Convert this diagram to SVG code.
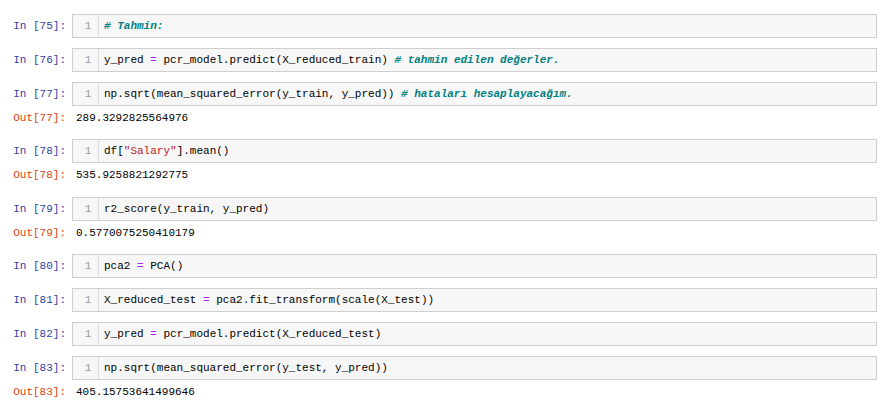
<svg xmlns="http://www.w3.org/2000/svg" width="887" height="409" viewBox="0 0 887 409">
<style>
text{font-family:"Liberation Mono","DejaVu Sans Mono",monospace;font-size:11px;fill:#000}
.in{fill:#303F9F}.out{fill:#D84315}
.box{fill:#f7f7f7;stroke:#cfcfcf;stroke-width:1}
.gut{stroke:#dddddd;stroke-width:1}
.ln{fill:#999}.c{fill:#008080;font-style:italic;font-weight:bold}.o{fill:#AA22FF}.s{fill:#BA2121}
</style>
<rect width="887" height="409" fill="#fff"/>
<g id="cells">
<g id="c75"><text class="in" x="66" y="29" text-anchor="end">In [75]:</text><rect class="box" x="72.5" y="14.5" width="804" height="23"/><line class="gut" x1="98.5" y1="15" x2="98.5" y2="37"/><text class="ln" x="88" y="29" text-anchor="middle">1</text><text x="104" y="29" class="c"># Tahmin:</text></g>
<g id="c76"><text class="in" x="66" y="63" text-anchor="end">In [76]:</text><rect class="box" x="72.5" y="48.5" width="804" height="23"/><line class="gut" x1="98.5" y1="49" x2="98.5" y2="71"/><text class="ln" x="88" y="63" text-anchor="middle">1</text><text x="104" y="63">y_pred <tspan class="o">=</tspan> pcr_model.predict(X_reduced_train) <tspan class="c"># tahmin edilen değerler.</tspan></text></g>
<g id="c77"><text class="in" x="66" y="97" text-anchor="end">In [77]:</text><rect class="box" x="72.5" y="82.5" width="804" height="23"/><line class="gut" x1="98.5" y1="83" x2="98.5" y2="105"/><text class="ln" x="88" y="97" text-anchor="middle">1</text><text x="104" y="97">np.sqrt(mean_squared_error(y_train, y_pred)) <tspan class="c"># hataları hesaplayacağım.</tspan></text><text class="out" x="66" y="121" text-anchor="end">Out[77]:</text><text x="76" y="121">289.3292825564976</text></g>
<g id="c78"><text class="in" x="66" y="154" text-anchor="end">In [78]:</text><rect class="box" x="72.5" y="139.5" width="804" height="23"/><line class="gut" x1="98.5" y1="140" x2="98.5" y2="162"/><text class="ln" x="88" y="154" text-anchor="middle">1</text><text x="104" y="154">df[<tspan class="s">"Salary"</tspan>].mean()</text><text class="out" x="66" y="178" text-anchor="end">Out[78]:</text><text x="76" y="178">535.9258821292775</text></g>
<g id="c79"><text class="in" x="66" y="212" text-anchor="end">In [79]:</text><rect class="box" x="72.5" y="197.5" width="804" height="23"/><line class="gut" x1="98.5" y1="198" x2="98.5" y2="220"/><text class="ln" x="88" y="212" text-anchor="middle">1</text><text x="104" y="212">r2_score(y_train, y_pred)</text><text class="out" x="66" y="236" text-anchor="end">Out[79]:</text><text x="76" y="236">0.5770075250410179</text></g>
<g id="c80"><text class="in" x="66" y="269" text-anchor="end">In [80]:</text><rect class="box" x="72.5" y="254.5" width="804" height="23"/><line class="gut" x1="98.5" y1="255" x2="98.5" y2="277"/><text class="ln" x="88" y="269" text-anchor="middle">1</text><text x="104" y="269">pca2 <tspan class="o">=</tspan> PCA()</text></g>
<g id="c81"><text class="in" x="66" y="303" text-anchor="end">In [81]:</text><rect class="box" x="72.5" y="288.5" width="804" height="23"/><line class="gut" x1="98.5" y1="289" x2="98.5" y2="311"/><text class="ln" x="88" y="303" text-anchor="middle">1</text><text x="104" y="303">X_reduced_test <tspan class="o">=</tspan> pca2.fit_transform(scale(X_test))</text></g>
<g id="c82"><text class="in" x="66" y="337" text-anchor="end">In [82]:</text><rect class="box" x="72.5" y="322.5" width="804" height="23"/><line class="gut" x1="98.5" y1="323" x2="98.5" y2="345"/><text class="ln" x="88" y="337" text-anchor="middle">1</text><text x="104" y="337">y_pred <tspan class="o">=</tspan> pcr_model.predict(X_reduced_test)</text></g>
<g id="c83"><text class="in" x="66" y="371" text-anchor="end">In [83]:</text><rect class="box" x="72.5" y="356.5" width="804" height="23"/><line class="gut" x1="98.5" y1="357" x2="98.5" y2="379"/><text class="ln" x="88" y="371" text-anchor="middle">1</text><text x="104" y="371">np.sqrt(mean_squared_error(y_test, y_pred))</text><text class="out" x="66" y="395" text-anchor="end">Out[83]:</text><text x="76" y="395">405.15753641499646</text></g>
</g>
<g id="connectors"/>
</svg>
